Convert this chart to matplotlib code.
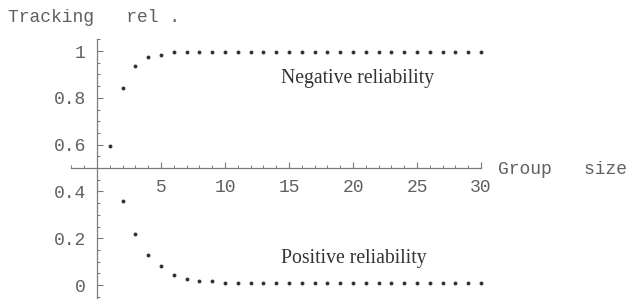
import matplotlib
matplotlib.use("Agg")
import matplotlib.pyplot as plt
import numpy as np

# Data
group_size = list(range(1, 31))
negative_rel = [0.595, 0.843, 0.937, 0.976, 0.985] + [0.994] * 25
pos_size = list(range(2, 31))
positive_rel = [0.358, 0.217, 0.130, 0.082, 0.044, 0.026, 0.017, 0.017] + [0.007] * 21

x_major = [5, 10, 15, 20, 25, 30]
y_major = [0, 0.2, 0.4, 0.6, 0.8, 1.0]
y_labels = ["0", "0.2", "0.4", "0.6", "0.8", "1"]

W, H = 628, 299
fig = plt.figure(figsize=(W / 100, H / 100), dpi=100)
ax = fig.add_axes([0, 0, 1, 1])

# pixel mapping: px = 97 + 12.8*x ; py = 285 - 234*y
x0p, sx = 97.0, 12.8
y0p, sy = 285.0, 234.0
ax.set_xlim(-x0p / sx, (W - x0p) / sx)
ax.set_ylim((y0p - H) / sy, y0p / sy)
ax.patch.set_visible(False)

axis_col = "#7a7a7a"
txt_col = "#606060"
dot_col = "#333333"

for s in ["top", "right"]:
    ax.spines[s].set_visible(False)
ax.spines["left"].set_position(("data", 0))
ax.spines["bottom"].set_position(("data", 0.5))
ax.spines["left"].set_bounds(-0.06, 1.05)
ax.spines["bottom"].set_bounds(-2, 30)
for s in ["left", "bottom"]:
    ax.spines[s].set_color(axis_col)
    ax.spines[s].set_linewidth(0.9)

mono = "Liberation Mono"
ax.set_xticks(x_major)
ax.set_xticklabels([str(v) for v in x_major], family=mono, fontsize=13, color=txt_col)
ax.set_xticks(np.arange(-2, 31, 1), minor=True)
ax.set_yticks(y_major)
ax.set_yticklabels(y_labels, family=mono, fontsize=13, color=txt_col)
ax.set_yticks(np.arange(-0.05, 1.051, 0.05), minor=True)
ax.tick_params(axis="both", which="major", direction="in", length=4.5, width=0.8, color=axis_col)
ax.tick_params(axis="both", which="minor", direction="in", length=2.5, width=0.7, color=axis_col)
ax.tick_params(axis="x", which="major", pad=8)
ax.tick_params(axis="y", which="major", pad=8)

ax.plot(group_size, negative_rel, "o", ms=2.8, color=dot_col, mec="none")
ax.plot(pos_size, positive_rel, "o", ms=2.8, color=dot_col, mec="none")

def px2d(px, py):
    return ((px - x0p) / sx, (y0p - py) / sy)

ax.text(*px2d(8, 18), "Tracking   rel .", family=mono, fontsize=13, color=txt_col,
        ha="left", va="center")
ax.text(*px2d(498, 169), "Group   size", family=mono, fontsize=13, color=txt_col,
        ha="left", va="center")
ax.text(*px2d(357.5, 79), "Negative reliability", family="Liberation Serif", fontsize=14.2,
        color="#333333", ha="center", va="center")
ax.text(*px2d(353.5, 258), "Positive reliability", family="Liberation Serif", fontsize=14.2,
        color="#333333", ha="center", va="center")

fig.savefig("out.png", dpi=100)
